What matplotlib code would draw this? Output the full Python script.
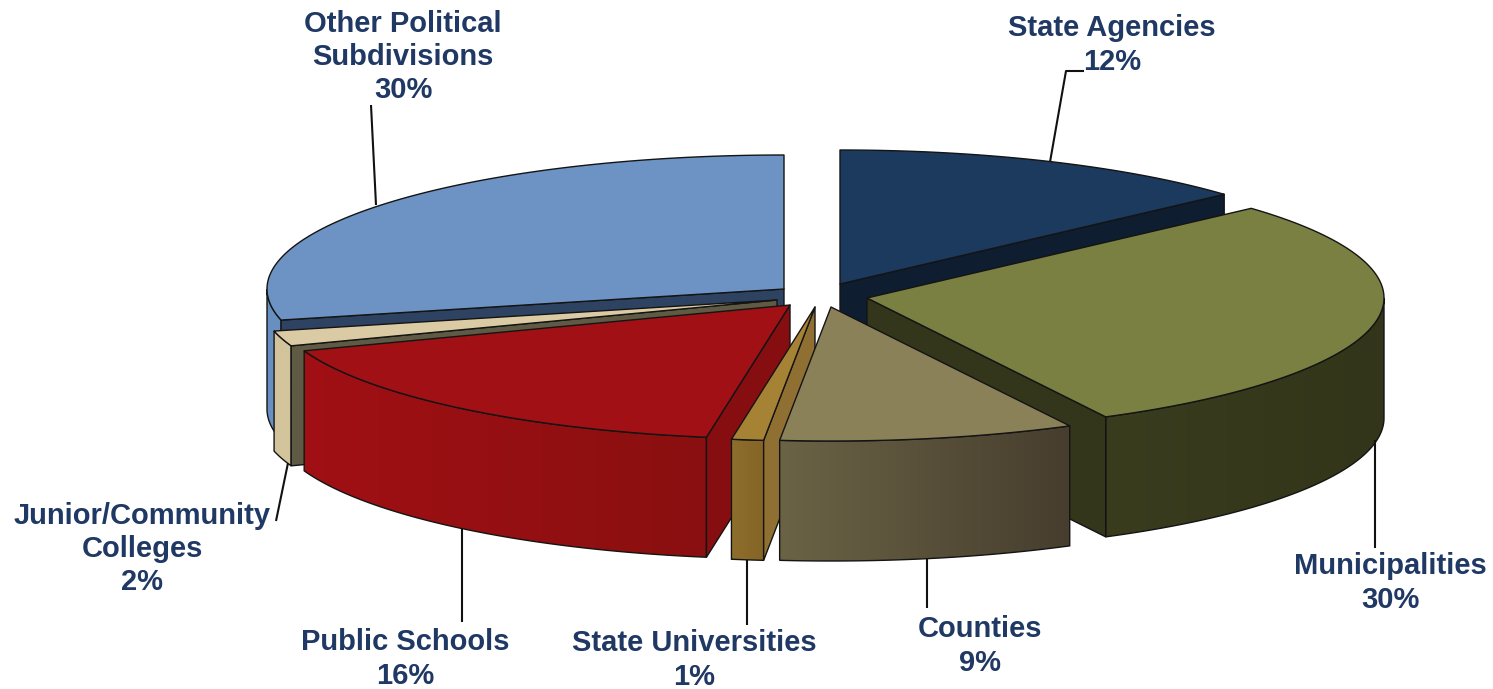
import numpy as np
import matplotlib
matplotlib.use("Agg")
import matplotlib.pyplot as plt
from matplotlib.colors import LinearSegmentedColormap
from matplotlib.patches import Polygon

# slices, clockwise from twelve o'clock
names = ["State Agencies", "Municipalities", "Counties", "State Universities",
         "Public Schools", "Junior/Community\nColleges", "Other Political\nSubdivisions"]
shares = [12, 30, 9, 1, 16, 2, 30]

# small corrections to the slice edges (degrees) for the tilted view
edge_nudge = [0, 4.8, 1.3, 2.1, 2.1, 5.2, 4.6, 0]

# where each exploded slice's tip lands
tip_x = [840, 867, 831, 815, 790, 777, 784]
tip_y = [284, 298, 307, 307, 305, 300, 289]

top_colors = ["#1C395E", "#7A8042", "#8A8159", "#A68235", "#A01014", "#DACBA5", "#6D93C4"]
rim_left = ["#0E1D30", "#3A3C1E", "#6B6345", "#8E6E2C", "#A01014", "#D3C49B", "#6890C0"]
rim_right = ["#0E1D30", "#33351A", "#463D2E", "#856526", "#8A0F10", "#D3C49B", "#6890C0"]
cut_colors = ["#0E1D30", "#33361B", "#463D2E", "#8F7032", "#870E10", "#5F5A44", "#2E4362"]

# back to front
draw_order = [0, 6, 5, 4, 3, 1, 2]

label_x = [1112, 1390, 980, 694, 405, 142, 403]
label_y = [45, 583, 646, 660, 659, 549, 57]

# leader lines, one per label
leader_x = [[1050, 1066, 1084], [1375, 1375], [927, 927], [747, 747], [462, 462], [288, 276], [376, 371]]
leader_y = [[162, 71, 71], [440, 548], [559, 608], [560, 625], [528, 622], [463, 521], [205, 105]]

radius_x = 517
radius_y = 134
depth = 120
text_color = "#1F3864"
edge_color = "#141414"

fig = plt.figure(figsize=(14.93, 6.89), dpi=100)
ax = fig.add_axes([0, 0, 1, 1])
ax.set_xlim(0, 1493)
ax.set_ylim(689, 0)
ax.axis("off")

edges = np.cumsum([0] + shares) * 3.6 + np.array(edge_nudge)


def rim_points(cx, cy, a, b):
    t = np.radians(np.linspace(a, b, 120))
    return cx + radius_x * np.sin(t), cy - radius_y * np.cos(t)


def face(xs, ys, color, z):
    ax.add_patch(Polygon(np.column_stack([xs, ys]), closed=True, facecolor=color,
                         edgecolor=edge_color, linewidth=1.0, joinstyle="round", zorder=z))


def shaded_face(xs, ys, left, right, z):
    # horizontal gradient clipped to the outline
    cmap = LinearSegmentedColormap.from_list("rim", [left, right])
    extent = [min(xs), max(xs), max(ys), min(ys)]
    im = ax.imshow(np.linspace(0, 1, 256).reshape(1, -1), cmap=cmap, extent=extent,
                   aspect="auto", zorder=z)
    clip = Polygon(np.column_stack([xs, ys]), closed=True, transform=ax.transData)
    im.set_clip_path(clip)
    ax.add_patch(Polygon(np.column_stack([xs, ys]), closed=True, facecolor="none",
                         edgecolor=edge_color, linewidth=1.0, zorder=z + 0.1))


for n, i in enumerate(draw_order):
    start, end = edges[i], edges[i + 1]
    cx, cy = tip_x[i], tip_y[i]
    z = 10 + n * 2

    # curved outer wall, only the part facing the viewer
    a, b = max(start, 90), min(end, 270)
    if a < b:
        rx, ry = rim_points(cx, cy, a, b)
        xs = np.concatenate([rx, rx[::-1]])
        ys = np.concatenate([ry, ry[::-1] + depth])
        shaded_face(xs, ys, rim_left[i], rim_right[i], z)

    # flat cut faces that turn towards the viewer
    for angle, visible in ((end, np.sin(np.radians(end)) > 0), (start, np.sin(np.radians(start)) < 0)):
        if visible:
            ex, ey = rim_points(cx, cy, angle, angle)
            face([cx, ex[0], ex[0], cx], [cy, ey[0], ey[0] + depth, cy + depth], cut_colors[i], z + 0.2)

    rx, ry = rim_points(cx, cy, start, end)
    face(np.concatenate([[cx], rx]), np.concatenate([[cy], ry]), top_colors[i], z + 0.4)

    ax.plot(leader_x[i], leader_y[i], color="#111111", lw=1.5, zorder=5 if i in (0, 6) else 40,
            solid_capstyle="butt")

for i in range(len(names)):
    ax.text(label_x[i], label_y[i], f"{names[i]}\n{shares[i]}%", ha="center", va="center",
            family="Liberation Sans", weight="bold", fontsize=21, color=text_color,
            linespacing=1.25, zorder=50)

fig.savefig("out.png", dpi=100)
